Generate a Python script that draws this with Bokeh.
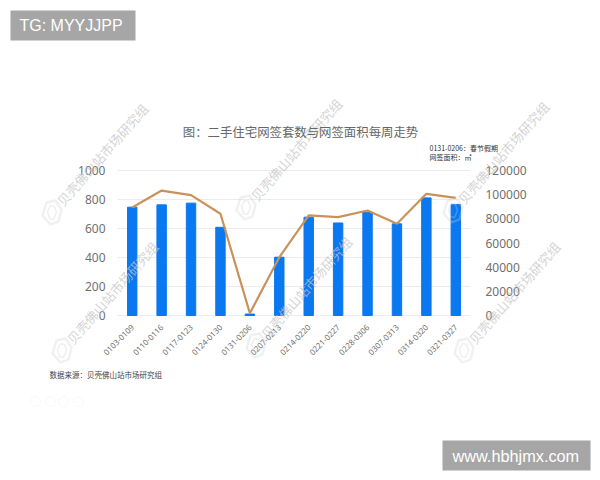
from bokeh.plotting import figure
from bokeh.embed import file_html
from bokeh.resources import INLINE
from bokeh.models import Range1d, LinearAxis, Label, BoxAnnotation, FixedTicker, PolyAnnotation
import math

weeks = ["0103-0109","0110-0116","0117-0123","0124-0130","0131-0206","0207-0213","0214-0220","0221-0227","0228-0306","0307-0313","0314-0320","0321-0327"]
counts = [747,763,775,608,10,402,678,638,712,632,811,766]
areas = [89400,103400,99600,84200,1900,48200,82800,81400,86900,75900,100700,97400]
left_ticks = [0,200,400,600,800,1000]
right_ticks = [0,20000,40000,60000,80000,100000,120000]
title_text = "图：二手住宅网签套数与网签面积每周走势"
note_1 = "0131-0206：春节假期"
note_2 = "网签面积：㎡"
source_text = "数据来源：贝壳佛山站市场研究组"
watermark_text = "贝壳佛山站市场研究组"
badge_left = "TG: MYYJJPP"
badge_right = "www.hbhjmx.com"

W, H = 592, 472
L, R, T, B = 117, 470, 170, 315   # plot-area edges in page px
FONT = "Noto Sans CJK SC"

# The frame fills the canvas so that the texts around the plot area are not clipped:
# the ranges are widened so that the plot area lands at L, R, T, B.
xu = (R - L) / 12
yu = (B - T) / 1000
p = figure(width=W, height=H, output_backend="svg", toolbar_location=None,
           x_range=Range1d(-0.5 - L / xu, 11.5 + (W - R) / xu),
           y_range=Range1d(-(H - B) / yu, 1000 + T / yu),
           min_border_left=0, min_border_right=0, min_border_top=0, min_border_bottom=0)
p.outline_line_color = None
p.background_fill_color = "white"
p.xgrid.visible = False
p.ygrid.visible = False
p.segment(x0=[-0.5]*len(left_ticks), x1=[11.5]*len(left_ticks), y0=left_ticks, y1=left_ticks, line_color="#ececec", line_width=1)

p.vbar(x=list(range(12)), top=counts, width=0.32, color="#0a78f0")
p.extra_y_ranges = {"area": Range1d(-(H - B) / yu * 120, (1000 + T / yu) * 120)}
p.line(x=list(range(12)), y=areas, y_range_name="area", line_color="#c8925a", line_width=2.2)

def style(axis):
    axis.major_label_text_color = "#707070"
    axis.major_label_text_font = "Noto Sans"
    axis.axis_line_color = None
    axis.major_tick_line_color = None
    axis.minor_tick_line_color = None

ax = p.xaxis[0]
style(ax)
ax.ticker = FixedTicker(ticks=list(range(12)))
ax.major_label_overrides = {i: w for i, w in enumerate(weeks)}
ax.major_label_orientation = 0.785
ax.major_label_text_font_size = "8px"
ax.major_label_standoff = -(H - B - 4)

ly = p.yaxis[0]
style(ly)
ly.ticker = FixedTicker(ticks=left_ticks)
ly.major_label_text_font_size = "12px"
ly.major_label_standoff = -111

ry = LinearAxis(y_range_name="area", ticker=FixedTicker(ticks=right_ticks))
style(ry)
ry.major_label_overrides = {v: str(v) for v in right_ticks}
ry.major_label_text_font_size = "12px"
ry.major_label_standoff = -(W - 479)
p.add_layout(ry, "right")

def label(x, y, text, size, color, **kw):
    p.add_layout(Label(x=x, y=H-y, x_units="screen", y_units="screen", text=text, level="annotation",
                       text_font=kw.pop("font", FONT), text_font_size=f"{size}px", text_color=color, **kw))

def box(x0, y0, x1, y1, color):
    p.add_layout(BoxAnnotation(left=x0, right=x1, top=H-y0, bottom=H-y1, left_units="screen", right_units="screen",
                               top_units="screen", bottom_units="screen", fill_color=color, fill_alpha=1, line_color=None, level="annotation"))

def poly(pts, color, w):
    p.add_layout(PolyAnnotation(xs=[a for a, b in pts], ys=[H-b for a, b in pts], xs_units="screen", ys_units="screen",
                                fill_alpha=0, line_color=color, line_width=w, level="annotation"))

marks = [(51,212),(245,207),(452,210),(61,350),(255,345),(463,350)]
for mx, my in marks:
    outer = [(-5,-10),(4,-12),(10,-3),(7,9),(-1,12),(-9,3)]
    inner = [(-1,-7),(3,-6),(5,0),(2,7),(-2,6),(-4,-1)]
    poly([(mx+a, my+b) for a, b in outer], "#cdcdcd", 2.4)
    poly([(mx+a, my+b) for a, b in inner], "#cdcdcd", 1.6)
    label(mx+8, my-9, watermark_text, 13, "#c4c4c4", angle=0.85, text_baseline="middle", text_alpha=0.75)

label(300, 131, title_text, 12.4, "#666666", text_align="center", text_baseline="middle")
label(429, 147, note_1, 7, "#333333", text_baseline="middle")
label(429, 156, note_2, 7, "#333333", text_baseline="middle")
label(49, 374, source_text, 7.5, "#444444", text_baseline="middle")

for cx in [35, 50, 63, 78]:
    poly([(cx + 5*math.cos(k*math.pi/6), 401 + 5*math.sin(k*math.pi/6)) for k in range(12)], "#e6e6e6", 1)

box(10, 10, 135, 40, "#a6a6a6")
box(442, 440, 590, 470, "#a6a6a6")
label(19, 25, badge_left, 16, "white", font="Liberation Sans", text_baseline="middle")
label(452, 455, badge_right, 16.3, "white", font="Liberation Sans", text_baseline="middle")

open("out.html", "w").write(file_html(p, INLINE))
